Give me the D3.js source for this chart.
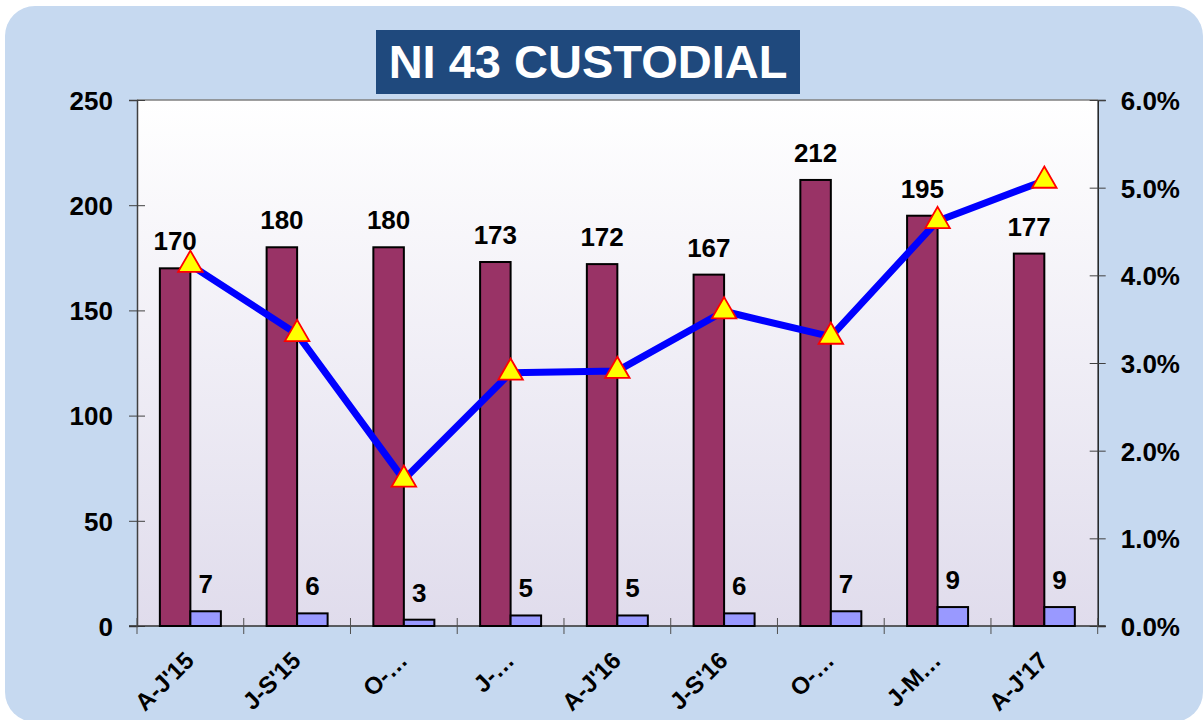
<!DOCTYPE html>
<html>
<head>
<meta charset="utf-8">
<script src="https://cdn.jsdelivr.net/npm/d3@7"></script>
<style>
  html, body { margin: 0; padding: 0; background: #ffffff; }
  svg { display: block; }
  text { font-family: "Liberation Sans", Arial, sans-serif; font-weight: bold; }
</style>
</head>
<body>
<svg id="chart" width="1203" height="720"></svg>
<script>
// ---- data ----
const categories = ["A-J'15", "J-S'15", "O-…", "J-…", "A-J'16", "J-S'16", "O-…", "J-M…", "A-J'17"];
const totalValues = [170, 180, 180, 173, 172, 167, 212, 195, 177];
const custodialValues = [7, 6, 3, 5, 5, 6, 7, 9, 9];
const rateValues = [4.12, 3.33, 1.67, 2.89, 2.91, 3.59, 3.30, 4.62, 5.08];
const leftTicks = [0, 50, 100, 150, 200, 250];
const rightTicks = [0, 1, 2, 3, 4, 5, 6];
const titleText = "NI 43 CUSTODIAL";

// ---- layout ----
const svg = d3.select("#chart");
const plot = { left: 137, right: 1097.7, top: 100, bottom: 626 };

const defs = svg.append("defs");
const grad = defs.append("linearGradient").attr("id", "plotGrad")
  .attr("x1", 0).attr("y1", 0).attr("x2", 0).attr("y2", 1);
grad.append("stop").attr("offset", "0%").attr("stop-color", "#ffffff");
grad.append("stop").attr("offset", "100%").attr("stop-color", "#e0dcec");

// outer rounded panel
svg.append("rect").attr("x", 5).attr("y", 6).attr("width", 1198).attr("height", 716)
  .attr("rx", 30).attr("ry", 30).attr("fill", "#c6d9f0");

// scales
const x = d3.scaleBand().domain(d3.range(categories.length)).range([plot.left, plot.right]).padding(0);
const sub = d3.scaleBand().domain(["total", "custodial"]).range([0, x.bandwidth()])
  .paddingInner(0).paddingOuter(0.75);
const yL = d3.scaleLinear().domain([0, 250]).range([plot.bottom, plot.top]);
const yR = d3.scaleLinear().domain([0, 6]).range([plot.bottom, plot.top]);

// plot background
svg.append("rect").attr("x", plot.left).attr("y", plot.top)
  .attr("width", plot.right - plot.left).attr("height", plot.bottom - plot.top)
  .attr("fill", "url(#plotGrad)");
// top border
svg.append("line").attr("x1", plot.left).attr("x2", plot.right)
  .attr("y1", plot.top).attr("y2", plot.top).attr("stroke", "#7f7f7f").attr("stroke-width", 1.5);

// title
const titleG = svg.append("g");
titleG.append("rect").attr("x", 376).attr("y", 30).attr("width", 424).attr("height", 64).attr("fill", "#1f497d");
titleG.append("text").attr("x", 588).attr("y", 78).attr("text-anchor", "middle")
  .attr("fill", "#ffffff").style("font-size", "47px").text(titleText);

// left axis
const axL = svg.append("g").attr("transform", `translate(${plot.left},0)`)
  .call(d3.axisLeft(yL).tickValues(leftTicks).tickSize(8).tickPadding(16).tickFormat(d3.format("d")));
axL.selectAll(".tick line").attr("x2", 8).attr("x1", -8).attr("stroke", "#404040");
axL.select(".domain").attr("stroke", "#404040").attr("stroke-width", 1.5);
axL.selectAll("text").style("font-size", "26px").attr("fill", "#000").attr("dy", "0.36em");

// right axis
const axR = svg.append("g").attr("transform", `translate(${plot.right},0)`)
  .call(d3.axisRight(yR).tickValues(rightTicks).tickSize(8).tickPadding(15).tickFormat(d => d.toFixed(1) + "%"));
axR.selectAll(".tick line").attr("x1", -8).attr("x2", 8).attr("stroke", "#404040");
axR.select(".domain").attr("stroke", "#202020").attr("stroke-width", 1.5);
axR.selectAll("text").style("font-size", "26px").attr("fill", "#000").attr("dy", "0.36em");

// bottom axis line & category ticks
const tickPos = d3.range(categories.length + 1).map(i => plot.left + i * x.step());
svg.append("line").attr("x1", plot.left - 8).attr("x2", plot.right + 8)
  .attr("y1", plot.bottom).attr("y2", plot.bottom).attr("stroke", "#303030").attr("stroke-width", 1.5);
svg.selectAll(".ctick").data(tickPos).join("line").attr("class", "ctick")
  .attr("x1", d => d).attr("x2", d => d).attr("y1", plot.bottom - 8).attr("y2", plot.bottom + 8)
  .attr("stroke", "#505050").attr("stroke-width", 1);

// category labels
svg.selectAll(".clabel").data(categories).join("text").attr("class", "clabel")
  .attr("text-anchor", "end")
  .attr("transform", (d, i) => `translate(${x(i) + x.bandwidth() / 2 + 5},662) rotate(-45)`)
  .style("font-size", "24px").attr("fill", "#000").text(d => d);

// bars
const barsG = svg.append("g");
barsG.selectAll(".btot").data(totalValues).join("rect").attr("class", "btot")
  .attr("x", (d, i) => x(i) + sub("total")).attr("width", sub.bandwidth())
  .attr("y", d => yL(d)).attr("height", d => yL(0) - yL(d))
  .attr("fill", "#993366").attr("stroke", "#000").attr("stroke-width", 2);
barsG.selectAll(".bcus").data(custodialValues).join("rect").attr("class", "bcus")
  .attr("x", (d, i) => x(i) + sub("custodial")).attr("width", sub.bandwidth())
  .attr("y", d => yL(d)).attr("height", d => yL(0) - yL(d))
  .attr("fill", "#9999ff").attr("stroke", "#000").attr("stroke-width", 2);

// bar labels
svg.selectAll(".ltot").data(totalValues).join("text").attr("class", "ltot")
  .attr("x", (d, i) => x(i) + sub("total") + sub.bandwidth() / 2)
  .attr("y", d => yL(d) - 18).attr("text-anchor", "middle")
  .style("font-size", "26px").attr("fill", "#000").text(d => d);
svg.selectAll(".lcus").data(custodialValues).join("text").attr("class", "lcus")
  .attr("x", (d, i) => x(i) + sub("custodial") + sub.bandwidth() / 2)
  .attr("y", d => yL(d) - 18).attr("text-anchor", "middle")
  .style("font-size", "26px").attr("fill", "#000").text(d => d);

// line
const line = d3.line().x((d, i) => x(i) + x.bandwidth() / 2).y(d => yR(d));
svg.append("path").datum(rateValues).attr("d", line)
  .attr("fill", "none").attr("stroke", "#0000ff").attr("stroke-width", 7).attr("stroke-linejoin", "round");

// triangle markers
const tri = d3.symbol().type(d3.symbolTriangle).size(260);
svg.selectAll(".mk").data(rateValues).join("path").attr("class", "mk")
  .attr("d", tri)
  .attr("transform", (d, i) => `translate(${x(i) + x.bandwidth() / 2},${yR(d)})`)
  .attr("fill", "#ffff00").attr("stroke", "#ff0000").attr("stroke-width", 1.8);
</script>
</body>
</html>
